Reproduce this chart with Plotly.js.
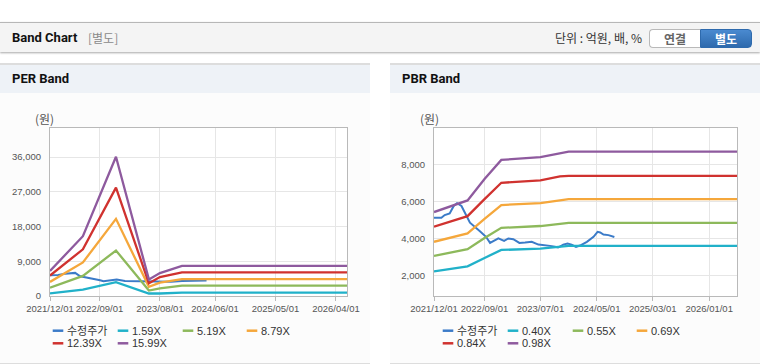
<!DOCTYPE html>
<html><head><meta charset="utf-8">
<script src="https://cdn.plot.ly/plotly-3.0.1.min.js"></script>
<style>
html,body{margin:0;padding:0;background:#fff;width:760px;height:364px;overflow:hidden;position:relative;}
body{font-family:Roboto,"Noto Sans CJK KR",sans-serif;}
.topbar{position:absolute;left:0;top:22px;width:760px;height:29px;background:#f4f4f4;border-top:1px solid #b7b7b7;box-shadow:0 1px 2px rgba(0,0,0,0.35);}
.tb-title{position:absolute;left:12px;top:0;line-height:29px;font-size:13px;font-weight:bold;color:#111;}
.tb-sub{position:absolute;left:88px;top:0;line-height:29px;font-size:12px;color:#8a8a8a;font-family:"Noto Sans CJK KR",sans-serif;}
.tb-unit{position:absolute;right:118px;top:0;line-height:29px;font-size:12px;color:#333;font-family:"Noto Sans CJK KR",sans-serif;}
.btn{position:absolute;top:6px;height:17px;line-height:17px;width:50px;text-align:center;font-size:12px;font-weight:bold;font-family:"Noto Sans CJK KR",sans-serif;}
.btn1{left:649px;background:#fff;border:1px solid #b9b9b9;border-right:none;border-radius:4px 0 0 4px;color:#666;}
.btn2{left:700px;background:linear-gradient(#4a8ad0,#2e6aad);border:1px solid #2e6aad;border-radius:0 4px 4px 0;color:#fff;}
.panel{position:absolute;top:63px;width:370px;height:298px;background:#fcfcfc;border-top:2px solid #dddddd;border-bottom:1px solid #dddddd;}
.phead{position:absolute;left:0;top:0;width:370px;height:28px;background:#eef2f7;}
.ptitle{position:absolute;left:12px;top:0;line-height:28px;font-size:13px;font-weight:bold;color:#111;}
.plot{position:absolute;top:93px;width:370px;height:270px;}
</style></head>
<body>
<div class="topbar">
  <div class="tb-title">Band Chart</div>
  <div class="tb-sub">[별도]</div>
  <div class="tb-unit">단위 : 억원, 배, %</div>
  <div class="btn btn1">연결</div>
  <div class="btn btn2">별도</div>
</div>
<div class="panel" style="left:0"><div class="phead"><div class="ptitle">PER Band</div></div></div>
<div class="panel" style="left:390px"><div class="phead"><div class="ptitle">PBR Band</div></div></div>
<div id="per" class="plot" style="left:0"></div>
<div id="pbr" class="plot" style="left:390px"></div>
<script>
// ---------- PER Band data ----------
const perPriceDates = ['2021-12-01','2022-01-15','2022-02-23','2022-04-19','2022-05-17','2022-06-23','2022-08-08','2022-09-04','2022-09-23','2022-11-08','2022-12-05','2023-01-20','2023-05-10','2023-07-23','2023-10-01','2023-12-01','2024-02-01','2024-04-15'];
const perPrice = [5400,5450,5800,5990,5120,4780,4520,4080,3820,4080,4250,3910,3820,3820,3700,3900,3950,4050];
const perBandDates = ['2021-12-01','2022-06-01','2022-12-01','2023-06-01','2023-08-01','2023-12-01','2026-06-01'];
const per159 = [700,1650,3600,650,650,900,900];
const per519 = [2150,5200,11800,1400,1950,2700,2700];
const per879 = [3650,8700,20000,2400,3450,4350,4350];
const per1239 = [5300,12100,28100,3300,4900,6150,6150];
const per1599 = [6500,15500,36100,4300,5950,7800,7800];
const perNames = ['수정주가','1.59X','5.19X','8.79X','12.39X','15.99X'];
const perXTicks = ['2021-12-01','2022-09-01','2023-08-01','2024-06-01','2025-05-01','2026-04-01'];
const perYTicks = [0,9000,18000,27000,36000];

// ---------- PBR Band data ----------
const pbrPriceDates = ['2021-12-01','2022-01-10','2022-01-28','2022-02-24','2022-03-18','2022-04-05','2022-04-29','2022-05-30','2022-06-14','2022-08-07','2022-09-09','2022-10-01','2022-10-28','2022-11-15','2022-12-16','2023-01-08','2023-02-04','2023-03-09','2023-04-09','2023-05-15','2023-06-20','2023-07-26','2023-08-22','2023-09-18','2023-10-05','2023-11-02','2023-11-25','2023-12-17','2024-01-10','2024-02-01','2024-03-09','2024-04-14','2024-05-06','2024-05-20','2024-06-07','2024-07-04','2024-08-05'];
const pbrPrice = [5115,5115,5260,5350,5750,5900,5750,5080,4850,4390,4090,3760,3910,4000,3870,4000,3960,3760,3780,3820,3670,3640,3600,3550,3510,3670,3730,3670,3550,3620,3820,4090,4360,4320,4210,4180,4080];
const pbrBandDates = ['2021-12-01','2022-06-01','2022-09-01','2022-12-01','2023-07-01','2023-10-15','2023-12-01','2026-06-01'];
const pbr040 = [2230,2500,2950,3380,3450,3560,3600,3600];
const pbr055 = [3060,3420,4020,4570,4670,4800,4840,4840];
const pbr069 = [3820,4270,5050,5800,5900,6060,6120,6120];
const pbr084 = [4630,5200,6120,7000,7130,7350,7370,7370];
const pbr098 = [5420,6050,7200,8230,8380,8590,8680,8680];
const pbrNames = ['수정주가','0.40X','0.55X','0.69X','0.84X','0.98X'];
const pbrXTicks = ['2021-12-01','2022-09-01','2023-07-01','2024-05-01','2025-03-01','2026-01-01'];
const pbrYTicks = [2000,4000,6000,8000];

const colors = ['#3b7bc8','#21b1c9','#8db95b','#f5a73b','#d0322f','#8e5a9e'];
const xRange = ['2021-12-01','2026-06-01'];

function build(divId, names, priceDates, price, bandDates, bands, xTicks, yTicks, yRange, ml, unitShift){
  const traces = [];
  traces.push({x:priceDates, y:price, name:names[0], type:'scatter', mode:'lines', line:{color:colors[0], width:2}, showlegend:false, hoverinfo:'skip'});
  bands.forEach((b,i)=>{
    traces.push({x:bandDates, y:b, name:names[i+1], type:'scatter', mode:'lines', line:{color:colors[i+1], width:2.3}, showlegend:false, hoverinfo:'skip'});
  });
  const tickFont = {family:'"Liberation Sans",Arial,sans-serif', size:9.5, color:'#555'};
  const shapes = [], ann = [];
  const legX = 52.7 - ml; // legend column start relative to plot left
  const cols = [0,65,130,194];
  const rows = [-34.7,-47.3];
  names.forEach((n,i)=>{
    const c = cols[i%4] + legX, r = rows[Math.floor(i/4)];
    shapes.push({type:'line', xref:'paper', yref:'paper', xsizemode:'pixel', ysizemode:'pixel', xanchor:0, yanchor:0,
      x0:c, x1:c+10.6, y0:r, y1:r, line:{color:colors[i], width:2.5}});
    ann.push({xref:'paper', yref:'paper', x:0, y:0, xanchor:'left', yanchor:'middle', xshift:c+12, yshift:r,
      text:n, showarrow:false, font:{family:'"Liberation Sans","Noto Sans CJK KR",sans-serif', size:11, color:'#333'}});
  });
  ann.push({xref:'paper', yref:'paper', x:0, y:1, xanchor:'left', yanchor:'middle', xshift:unitShift, yshift:10,
    text:'(원)', showarrow:false, font:{family:'"Noto Sans CJK KR",sans-serif', size:12, color:'#555'}});
  const layout = {
    width:370, height:270, margin:{l:ml, r:23, t:35, b:67},
    paper_bgcolor:'rgba(0,0,0,0)', plot_bgcolor:'#ffffff', showlegend:false,
    xaxis:{type:'date', range:xRange, tickvals:xTicks, tickformat:'%Y/%m/%d', tickfont:tickFont, tickangle:0,
      showgrid:true, gridcolor:'#e6e6e6', gridwidth:1, showline:true, linecolor:'#b9b9b9', linewidth:1, mirror:true,
      ticks:'outside', ticklen:4, tickcolor:'#b9b9b9', zeroline:false, fixedrange:true},
    yaxis:{range:yRange, tickvals:yTicks, tickformat:',d', tickfont:tickFont,
      showgrid:true, gridcolor:'#e6e6e6', gridwidth:1, showline:true, linecolor:'#b9b9b9', linewidth:1, mirror:true,
      ticks:'', ticklabelstandoff:6, zeroline:false, fixedrange:true},
    shapes:shapes, annotations:ann
  };
  Plotly.newPlot(divId, traces, layout, {staticPlot:true, displayModeBar:false});
}

build('per', perNames, perPriceDates, perPrice, perBandDates, [per159,per519,per879,per1239,per1599], perXTicks, perYTicks, [0,43550], 50, -17);
build('pbr', pbrNames, pbrPriceDates, pbrPrice, pbrBandDates, [pbr040,pbr055,pbr069,pbr084,pbr098], pbrXTicks, pbrYTicks, [900,9950], 44, -16);
</script>
</body></html>
